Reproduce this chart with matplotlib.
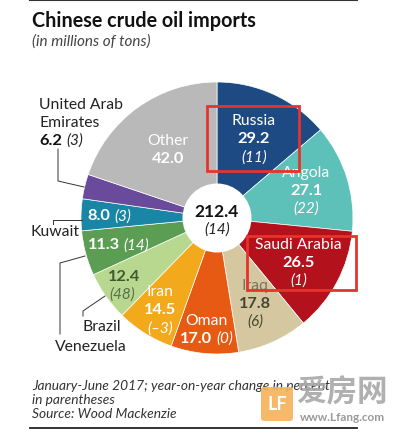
import numpy as np
import matplotlib
matplotlib.use("Agg")
import matplotlib.pyplot as plt
from matplotlib.patches import Circle, Rectangle, FancyBboxPatch

# ---- data ----
countries = ["Russia", "Angola", "Saudi Arabia", "Iraq", "Oman", "Iran",
             "Brazil", "Venezuela", "Kuwait", "United Arab Emirates", "Other"]
imports = [29.2, 27.1, 26.5, 17.8, 17.0, 14.5, 12.4, 11.3, 8.0, 6.2, 42.0]
changes = ["11", "22", "1", "6", "0", "\u20133", "48", "14", "3", "3", None]
total_imports = 212.4
total_change = "14"

colors = ["#1d4a82", "#5dc1b9", "#b3111c", "#d5c8a0", "#e65a13", "#f3a91c",
          "#b8d88f", "#5b9d52", "#1a86a6", "#6a4b9b", "#b9b9b9"]

W, H = 399, 439
def Y(p):
    return H - p

plt.rcParams['font.family'] = ['Lato', 'DejaVu Sans']

NAME, NUM, CHG = 11.3, 11.8, 11

fig = plt.figure(figsize=(W / 100, H / 100), dpi=100)
ax = fig.add_axes([0, 0, 1, 1])

cx, cy, R = 217, Y(219), 136
wedges, _ = ax.pie(imports, colors=colors, startangle=90, counterclock=False,
                   center=(cx, cy), radius=R,
                   wedgeprops=dict(edgecolor="white", linewidth=0.5))
ax.set_xlim(0, W)
ax.set_ylim(0, H)
ax.set_aspect("equal")
ax.axis("off")
renderer = fig.canvas.get_renderer()

def pair(x, y, num, chg, col, ha="center", ncol=None):
    # bold number followed by italic change, e.g. "8.0 (3)"
    t1 = ax.text(x, y, num, ha="left", va="center", fontsize=NUM,
                 fontweight="bold", color=ncol or col, zorder=4)
    t2 = ax.text(x, y, chg, ha="left", va="center", fontsize=CHG,
                 style="italic", color=col, zorder=4)
    w1 = t1.get_window_extent(renderer).width
    w2 = t2.get_window_extent(renderer).width
    gap = 4
    x0 = x - (w1 + gap + w2) / 2 if ha == "center" else x
    t1.set_x(x0)
    t2.set_x(x0 + w1 + gap)

# hole in the middle with total
ax.add_patch(Circle((cx, cy), 34.5, facecolor="white", edgecolor="none", zorder=3))
ax.text(cx, Y(212), f"{total_imports}", ha="center", va="center", fontsize=12.5,
        fontweight="bold", color="#111111", zorder=4)
ax.text(cx, Y(230), f"({total_change})", ha="center", va="center", fontsize=11,
        style="italic", color="#222222", zorder=4)

# where to put labels inside slices: radius fraction along mid angle
label_r = [0.645, 0.687, 0.68, 0.685, 0.82, 0.79, 0.86, 0.75, 0.79, None, 0.62]
dark = "#46462f"
lab_color = ["white", "white", "white", dark, "white", "white", "#3e5a30",
             "white", "white", None, "white"]
name_color = ["white", "white", "white", "#7a7560", "white", "white", None,
              None, None, None, "white"]

def mid_point(i, frac):
    w = wedges[i]
    a = np.deg2rad((w.theta1 + w.theta2) / 2)
    return cx + frac * R * np.cos(a), cy + frac * R * np.sin(a)

step = 18
for i, name in enumerate(countries):
    if label_r[i] is None:
        continue
    x, y = mid_point(i, label_r[i])
    val = f"{imports[i]:.1f}"
    chg = f"({changes[i]})" if changes[i] is not None else None
    col = lab_color[i]
    if name in ("Russia", "Angola", "Saudi Arabia", "Iraq", "Iran"):
        ax.text(x, y + step, name, ha="center", va="center", fontsize=NAME,
                color=name_color[i])
        ax.text(x, y, val, ha="center", va="center", fontsize=NUM,
                fontweight="bold", color=col)
        ax.text(x, y - step, chg, ha="center", va="center", fontsize=CHG,
                style="italic", color=col)
    elif name == "Oman":
        ax.text(x, y + step / 2, name, ha="center", va="center", fontsize=NAME,
                color=col)
        pair(x, y - step / 2, val, chg, col)
    elif name == "Other":
        ax.text(x, y + step / 2, name, ha="center", va="center", fontsize=NAME,
                color=col)
        ax.text(x, y - step / 2, val, ha="center", va="center", fontsize=NUM,
                fontweight="bold", color=col)
    elif name == "Brazil":
        ax.text(x + 3, y + step / 2, val, ha="center", va="center", fontsize=NUM,
                fontweight="bold", color=col)
        ax.text(x + 1, y - step / 2 + 1, chg, ha="center", va="center", fontsize=CHG,
                style="italic", color="#5c6e4c")
    else:  # Venezuela, Kuwait: single line
        pair(x, y, val, chg, col)

# outside labels with leader lines
lc = "#333333"
tc = "#222222"
ax.text(39, Y(105), "United Arab", ha="left", va="center", fontsize=NAME, color=tc)
ax.text(39, Y(123), "Emirates", ha="left", va="center", fontsize=NAME, color=tc)
pair(39, Y(141), f"{imports[9]:.1f}", f"({changes[9]})", tc, ha="left", ncol="#111111")
ax.plot([58, 58, 84], [Y(150), Y(182), Y(188)], color=lc, lw=0.7)

ax.text(30, Y(232), "Kuwait", ha="left", va="center", fontsize=NAME, color=tc)
ax.plot([53, 53, 82], [Y(225), Y(221), Y(221)], color=lc, lw=0.7)

ax.text(82, Y(327), "Brazil", ha="left", va="center", fontsize=NAME, color=tc)
ax.plot([83, 83, 105], [Y(317), Y(312), Y(297)], color=lc, lw=0.7)

ax.text(55, Y(347), "Venezuela", ha="left", va="center", fontsize=NAME, color=tc)
ax.plot([60, 60, 85], [Y(335), Y(264), Y(257)], color=lc, lw=0.7)

# title, subtitle, notes
ax.plot([30, 357], [Y(1), Y(1)], color="#333333", lw=1.5)
ax.text(32, Y(21), "Chinese crude oil imports", ha="left", va="center",
        fontsize=14.2, fontweight="bold", color="#111111")
ax.text(32, Y(42), "(in millions of tons)", ha="left", va="center",
        fontsize=11, style="italic", color="#444444")

notes = ["January-June 2017; year-on-year change in percent",
         "in parentheses",
         "Source: Wood Mackenzie"]
for k, line in enumerate(notes):
    ax.text(32, Y(386 + 14 * k), line, ha="left", va="center", fontsize=9.9,
            style="italic", color="#333333")
ax.plot([30, 357], [Y(429), Y(429)], color="#222222", lw=1.3)

# red highlight boxes
ax.add_patch(Rectangle((207, Y(172)), 92, 65, fill=False, edgecolor="#e8322b", lw=2, zorder=5))
ax.add_patch(Rectangle((247, Y(291)), 109, 54, fill=False, edgecolor="#e8322b", lw=2, zorder=5))

# watermark
ax.add_patch(FancyBboxPatch((261, Y(422)), 32, 34, boxstyle="round,pad=0,rounding_size=3",
                            facecolor="#f6b25a", edgecolor="none", alpha=0.9, zorder=6))
ax.text(277, Y(405), "LF", ha="center", va="center", fontsize=13, fontweight="bold",
        color="white", zorder=7)
ax.text(342, Y(393), "爱房网", ha="center", va="center", fontsize=22,
        family=["Noto Sans CJK SC", "DejaVu Sans"], fontweight="bold",
        color="#a8a8a8", alpha=0.9, zorder=6)
ax.text(342, Y(418), "www.Lfang.com", ha="center", va="center", fontsize=8.5,
        fontweight="bold", color="#9a9a9a", zorder=6)

fig.savefig("out.png", dpi=100)
